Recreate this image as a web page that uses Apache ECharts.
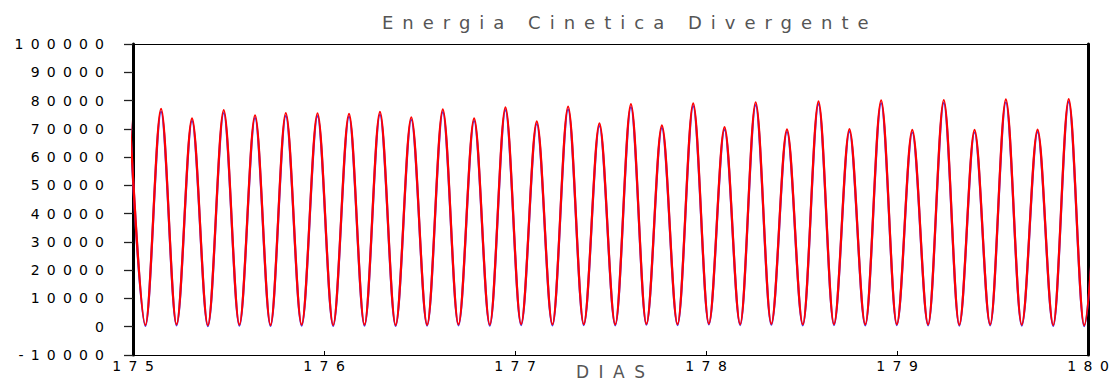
<!DOCTYPE html>
<html>
<head>
<meta charset="utf-8">
<script src="https://cdn.jsdelivr.net/npm/echarts@6/dist/echarts.min.js"></script>
<style>
html,body{margin:0;padding:0;background:#fff;}
#chart{width:1116px;height:381px;}
</style>
</head>
<body>
<div id="chart"></div>
<script>
// Time (days) of each turning point (peaks and troughs)
const dias = [
  174.983, 175.065, 175.147, 175.228, 175.309, 175.392, 175.475, 175.557, 175.639, 175.720,
  175.800, 175.883, 175.966, 176.048, 176.131, 176.212, 176.293, 176.375, 176.457, 176.540,
  176.622, 176.704, 176.786, 176.868, 176.950, 177.032, 177.114, 177.196, 177.278, 177.360,
  177.442, 177.525, 177.607, 177.688, 177.769, 177.851, 177.933, 178.015, 178.097, 178.179,
  178.260, 178.342, 178.424, 178.507, 178.589, 178.670, 178.751, 178.834, 178.917, 178.999,
  179.080, 179.163, 179.245, 179.326, 179.406, 179.488, 179.570, 179.653, 179.736, 179.818,
  179.899, 179.980, 180.060
];
// Red curve values at those times
const vermelho = [
  74500, 600, 77100, 800, 73700, 500, 76600, 700, 74800, 600,
  75600, 700, 75500, 600, 75300, 700, 76000, 600, 74100, 700,
  76900, 800, 73700, 700, 77600, 900, 72600, 800, 77900, 900,
  71900, 800, 78700, 1000, 71200, 900, 79000, 1100, 70600, 900,
  79400, 1000, 69800, 800, 79700, 900, 69900, 800, 80100, 900,
  69600, 800, 80200, 700, 69600, 800, 80400, 700, 69700, 600,
  80500, 500, 70000
];
// Blue curve values at those times
const azul = [
  73600, 300, 76100, 500, 72800, 200, 75600, 400, 73900, 300,
  74600, 400, 74500, 300, 74300, 400, 75000, 300, 73200, 400,
  75900, 500, 72800, 400, 76600, 600, 71700, 500, 76900, 600,
  71000, 500, 77700, 700, 70300, 600, 78000, 800, 69700, 600,
  78400, 700, 68900, 500, 78700, 600, 69000, 500, 79100, 600,
  68700, 500, 79200, 400, 68700, 500, 79400, 400, 68800, 300,
  79500, 200, 69100
];
const yTicks = [-10000, 0, 10000, 20000, 30000, 40000, 50000, 60000, 70000, 80000, 90000, 100000];
const xTicks = [175, 176, 177, 178, 179, 180];
const titulo = 'Energia Cinetica Divergente';
const eixoX = 'DIAS';

const FONT = 'DejaVu Sans';
const chart = echarts.init(document.getElementById('chart'), null, {renderer: 'svg'});

const option = {
  animation: false,
  backgroundColor: '#fff',
  title: {
    text: titulo,
    left: 382,
    top: 13,
    padding: 0,
    textStyle: {fontFamily: FONT, fontSize: 18, fontWeight: 'normal', color: '#555'}
  },
  grid: {left: 133, right: 28, top: 44, bottom: 26, containLabel: false, outerBoundsMode: 'none'},
  xAxis: [{
    type: 'value',
    position: 'bottom',
    min: xTicks[0], max: xTicks[xTicks.length - 1], interval: 1,
    name: eixoX,
    nameLocation: 'middle',
    nameGap: 10,
    nameMoveOverlap: false,
    nameTextStyle: {fontFamily: FONT, fontSize: 17, lineHeight: 14, color: '#555', verticalAlign: 'top'},
    axisLine: {onZero: false, lineStyle: {color: '#000', width: 1}},
    axisTick: {show: true, inside: true, length: 4, lineStyle: {color: '#000', width: 1}},
    axisLabel: {fontFamily: FONT, fontSize: 14, color: '#000', margin: 4, formatter: v => String(v)},
    splitLine: {show: false}
  }, {
    type: 'value',
    position: 'top',
    min: xTicks[0], max: xTicks[xTicks.length - 1], interval: 1,
    axisLine: {onZero: false, lineStyle: {color: '#000', width: 1}},
    axisTick: {show: false},
    axisLabel: {show: false},
    splitLine: {show: false}
  }],
  yAxis: [{
    type: 'value',
    position: 'left',
    min: yTicks[0], max: yTicks[yTicks.length - 1], interval: 10000,
    axisLine: {show: true, onZero: false, lineStyle: {color: '#000', width: 3}},
    axisTick: {show: true, inside: false, length: 9, lineStyle: {color: '#222', width: 1.3}},
    axisLabel: {fontFamily: FONT, fontSize: 14, color: '#000', margin: 29, formatter: v => String(v)},
    splitLine: {show: false}
  }, {
    type: 'value',
    position: 'right',
    min: yTicks[0], max: yTicks[yTicks.length - 1], interval: 10000,
    axisLine: {show: true, onZero: false, lineStyle: {color: '#000', width: 3}},
    axisTick: {show: false},
    axisLabel: {show: false},
    splitLine: {show: false}
  }],
  series: [{
    name: 'azul',
    type: 'line',
    xAxisIndex: 0, yAxisIndex: 0,
    data: dias.map((d, i) => [d, azul[i]]),
    smooth: 0.33,
    smoothMonotone: 'x',
    showSymbol: false,
    clip: true,
    lineStyle: {color: '#3c3cff', width: 2.2},
    itemStyle: {color: '#3c3cff'},
    z: 2
  }, {
    name: 'vermelho',
    type: 'line',
    xAxisIndex: 0, yAxisIndex: 0,
    data: dias.map((d, i) => [d, vermelho[i]]),
    smooth: 0.33,
    smoothMonotone: 'x',
    showSymbol: false,
    clip: true,
    lineStyle: {color: '#ff0000', width: 2.2},
    itemStyle: {color: '#ff0000'},
    z: 3
  }]
};
chart.setOption(option);

// Wide letter spacing to mimic the stroked plotting font, keeping each text's alignment
const measureCtx = document.createElement('canvas').getContext('2d');
function spaceText() {
  document.querySelectorAll('#chart svg text').forEach(t => {
    const s = t.textContent;
    let ls, size;
    if (s === titulo) { ls = 9; size = 18; }
    else if (s === eixoX) { ls = 9.5; size = 17; }
    else if (s.length === 3) { ls = 7.5; size = 14; }   // x tick labels
    else { ls = 7.2; size = 14; }                        // y tick labels
    if (t.dataset.ox === undefined) {
      t.dataset.ox = t.getAttribute('x') || '0';
      t.dataset.anchor = t.getAttribute('text-anchor') || 'start';
    }
    const ox = parseFloat(t.dataset.ox) || 0;
    const anchor = t.dataset.anchor;
    measureCtx.font = size + 'px "' + FONT + '"';
    const w = measureCtx.measureText(s).width;
    const extra = (s.length - 1) * ls;
    let start = ox;
    if (anchor === 'end') start = ox - w - extra;
    else if (anchor === 'middle') start = ox - (w + extra) / 2;
    t.setAttribute('text-anchor', 'start');
    t.setAttribute('x', start);
    t.style.letterSpacing = ls + 'px';
  });
}
spaceText();
chart.on('finished', spaceText);
setTimeout(spaceText, 50);
</script>
</body>
</html>
